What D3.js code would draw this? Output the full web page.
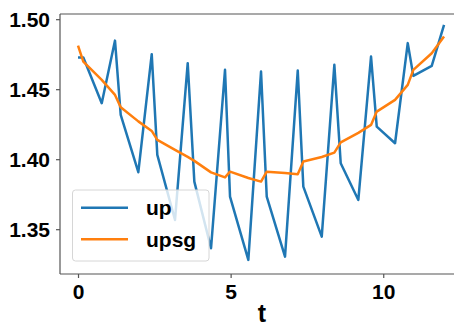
<!DOCTYPE html>
<html>
<head>
<meta charset="utf-8">
<script src="https://cdn.jsdelivr.net/npm/d3@7"></script>
<style>
  body { margin: 0; background: #fff; }
  svg text { font-family: "Liberation Sans", Arial, sans-serif; font-weight: bold; }
  .axis path, .axis line { stroke: #555; stroke-width: 1.2; }
  .axis text { font-size: 21px; fill: #000; }
</style>
</head>
<body>
<div id="chart"></div>
<script>
// sample times
var tValues = [0, 0.174, 0.777, 1.212, 1.399, 1.976, 2.415, 2.598, 3.178, 3.594,
    3.811, 4.358, 4.816, 4.980, 5.580, 5.996, 6.183, 6.782, 7.199, 7.382,
    7.985, 8.398, 8.607, 9.184, 9.600, 9.787, 10.387, 10.803, 10.986, 11.589, 11.992];

// raw series
var upValues = [1.4726, 1.4726, 1.4400, 1.4847, 1.4316, 1.3907, 1.4750, 1.4031, 1.3566, 1.4686,
    1.3840, 1.3364, 1.4638, 1.3733, 1.3281, 1.4626, 1.3733, 1.3304, 1.4633, 1.3804,
    1.3447, 1.4674, 1.3971, 1.3709, 1.4733, 1.4233, 1.4114, 1.4829, 1.4595, 1.4666, 1.4959];

// smoothed series
var upsgValues = [1.4811, 1.4697, 1.4566, 1.4459, 1.4371, 1.4270, 1.4202, 1.4138, 1.4067, 1.4016,
    1.3988, 1.3906, 1.3870, 1.3911, 1.3866, 1.3840, 1.3911, 1.3902, 1.3893, 1.3983,
    1.4016, 1.4047, 1.4120, 1.4188, 1.4245, 1.4340, 1.4424, 1.4531, 1.4638, 1.4757, 1.4876];

var seriesNames = ["up", "upsg"];
var seriesColors = ["#1f77b4", "#ff7f0e"];
var xTicks = [0, 5, 10];
var yTicks = [1.35, 1.40, 1.45, 1.50];

var width = 454, height = 329;

// set the ranges
var x = d3.scaleLinear().domain([-0.6, 12.6]).range([59.7, 462.6]);
var y = d3.scaleLinear().domain([1.318, 1.5037]).range([274, 14]);

var svg = d3.select("#chart").append("svg")
    .attr("width", width)
    .attr("height", height);

svg.append("defs").append("clipPath")
    .attr("id", "plot-clip")
    .append("rect")
    .attr("x", 60).attr("y", 14)
    .attr("width", 410).attr("height", 260);

var line = d3.line()
    .x(function(d) { return x(d.t); })
    .y(function(d) { return y(d.v); });

var series = [upValues, upsgValues].map(function(vals) {
    return vals.map(function(v, i) { return {t: tValues[i], v: v}; });
});

var plot = svg.append("g").attr("clip-path", "url(#plot-clip)");
series.forEach(function(s, i) {
    plot.append("path")
        .datum(s)
        .attr("fill", "none")
        .attr("stroke", seriesColors[i])
        .attr("stroke-width", 2.5)
        .attr("stroke-linejoin", "round")
        .attr("d", line);
});

// top spine
svg.append("line").attr("x1", 60).attr("x2", 470).attr("y1", 14).attr("y2", 14)
    .attr("stroke", "#555").attr("stroke-width", 1.2);

// Add the X Axis
var xAxis = svg.append("g")
    .attr("class", "axis")
    .attr("transform", "translate(0,274)")
    .call(d3.axisBottom(x).tickValues(xTicks).tickFormat(d3.format("d")).tickSize(4).tickSizeOuter(0).tickPadding(6));
xAxis.select(".domain").attr("d", "M60,0H470");

// Add the Y Axis
var yAxis = svg.append("g")
    .attr("class", "axis")
    .attr("transform", "translate(60,0)")
    .call(d3.axisLeft(y).tickValues(yTicks).tickFormat(d3.format(".2f")).tickSize(4).tickSizeOuter(0).tickPadding(6));
yAxis.select(".domain").attr("d", "M0,14V274");
yAxis.selectAll("text").attr("dy", "0.36em");

// x label
svg.append("text")
    .attr("x", 262)
    .attr("y", 322)
    .attr("text-anchor", "middle")
    .style("font-size", "25px")
    .attr("fill", "#000")
    .text("t");

// legend
var legend = svg.append("g");
legend.append("rect")
    .attr("x", 72.5).attr("y", 190)
    .attr("width", 136.5).attr("height", 71)
    .attr("rx", 3)
    .attr("fill", "#fff").attr("fill-opacity", 0.8)
    .attr("stroke", "#d6d6d6").attr("stroke-width", 1);

seriesNames.forEach(function(name, i) {
    var ly = 207.7 + i * 31.6;
    legend.append("line")
        .attr("x1", 81).attr("x2", 128)
        .attr("y1", ly).attr("y2", ly)
        .attr("stroke", seriesColors[i])
        .attr("stroke-width", 2.5);
    legend.append("text")
        .attr("x", 146)
        .attr("y", ly)
        .attr("dy", "0.36em")
        .style("font-size", "21px")
        .attr("fill", "#000")
        .text(name);
});
</script>
</body>
</html>
